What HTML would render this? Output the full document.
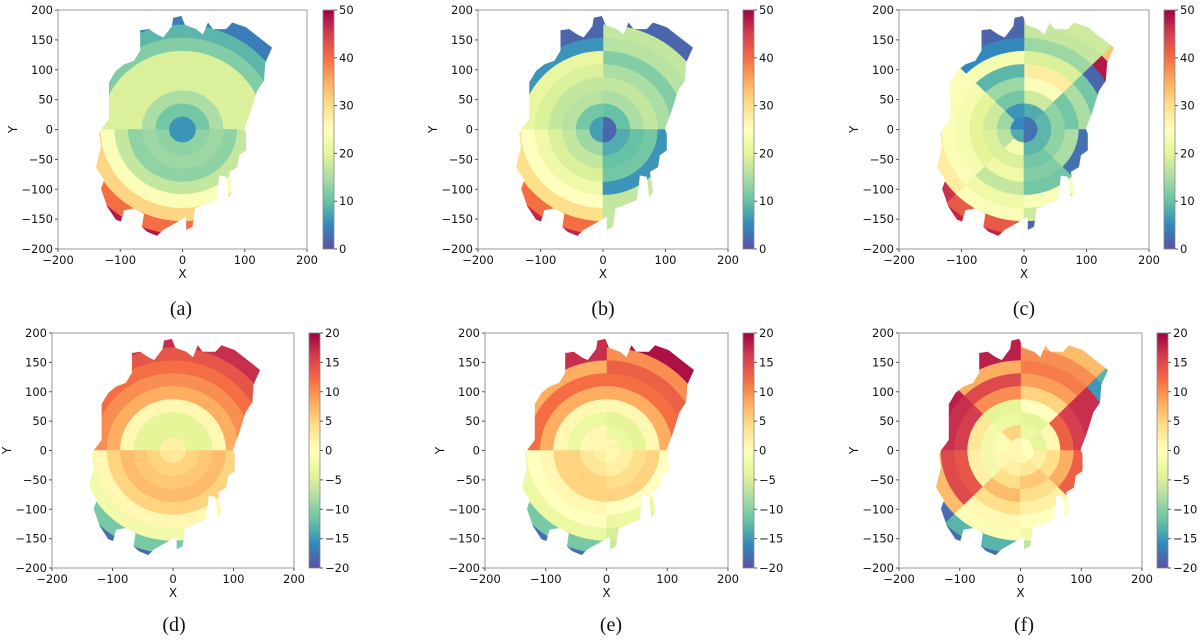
<!DOCTYPE html>
<html><head><meta charset="utf-8"><style>
body{margin:0;background:#fff;}
svg{display:block;font-family:"DejaVu Sans","Liberation Sans",sans-serif;}
</style></head><body>
<svg id="fig" width="1200" height="642" viewBox="0 0 1200 642" xmlns="http://www.w3.org/2000/svg">
<defs>
<linearGradient id="spec" x1="0" y1="1" x2="0" y2="0">
<stop offset="0" stop-color="#5e4fa2"/><stop offset="0.1" stop-color="#3288bd"/><stop offset="0.2" stop-color="#66c2a5"/><stop offset="0.3" stop-color="#abdda4"/><stop offset="0.4" stop-color="#e6f598"/><stop offset="0.5" stop-color="#ffffbf"/><stop offset="0.6" stop-color="#fee08b"/><stop offset="0.7" stop-color="#fdae61"/><stop offset="0.8" stop-color="#f46d43"/><stop offset="0.9" stop-color="#d53e4f"/><stop offset="1" stop-color="#9e0142"/>
</linearGradient>
</defs>
</svg>
<script>
// ring boundaries (data units)
const ringEdges = [0,22,44,66,88,110,132,154,176,215];
// footprint outline (data coords)
const outlineX = [-131,-118,-118,-107,-94,-78,-68,-68,-54,-41,-31,-17,-15,-2,4,22,33,41,49,70,80,102,123,144,133,131,120,110,99,102,102,91,88,75,80,74,70,59,57,54,28,20,16,6,6,-12,-31,-41,-57,-65,-62,-78,-94,-99,-107,-121,-131,-126,-139,-136,-131,-134];
const outlineY = [0,18,79,98,109,115,132,166,168,159,154,173,187,190,175,168,159,179,168,168,179,171,154,137,112,82,65,32,1,-7,-35,-43,-63,-71,-104,-114,-79,-77,-96,-118,-129,-132,-163,-168,-146,-157,-168,-178,-171,-163,-141,-132,-135,-154,-151,-129,-99,-85,-63,-49,-29,-7];
// panel a (2 sectors: upper, lower), values per ring
const aUpper = [6,11,15,19,19,19,12,9,4];
const aLower = [6,13,14,13,17,24,31,40,48];
// panel b (quadrants Q1..Q4)
const bQ1 = [2,10,15,17,15,12,16,17,2];
const bQ2 = [7,11,16,17,19,21,6,2,2];
const bQ3 = [7,14,17,19,22,25,30,40,47];
const bQ4 = [2,8,10,11,6,17,17,17,2];
// panel c (octants)
const cS0 = [3,9,13,11,15,11,2,48,33];
const cS1 = [3,8,18,24,28,19,14,17,18];
const cS2 = [5,6,11,14,9,23,5,2,2];
const cS3 = [5,14,18,20,23,24,24,25,25];
const cS4 = [8,16,19,20,23,24,28,46,47];
const cS5 = [8,23,19,22,17,22,24,42,47];
const cS6 = [3,9,11,12,11,24,18,2,2];
const cS7 = [3,9,13,15,3,12,2,2,2];
// panel d
const dUpper = [2,-4,-4,1,8,10,12,14,17];
const dLower = [3,5,6,7,5,1,-2,-11,-18];
// panel e
const eQ1 = [1,-3,-4,1,8,12,13,10,19];
const eQ2 = [1,1,-3,1,8,12,8,17,17];
const eQ3 = [2,3,5,5,1,0,-3,-11,-18];
const eQ4 = [1,2,4,5,0,-3,-5,-6,-8];
// panel f
const fS0 = [0,-4,1,13,16,17,17,-15,-13];
const fS1 = [0,-3,-4,0,5,9,11,10,7];
const fS2 = [1,5,-3,-4,10,15,8,18,18];
const fS3 = [1,-1,-2,3,16,17,18,18,18];
const fS4 = [1,1,-2,2,14,15,7,-18,-18];
const fS5 = [1,2,4,7,4,1,-1,-13,-18];
const fS6 = [1,3,6,4,2,0,-2,-7,-7];
const fS7 = [0,2,4,8,13,-6,-8,-17,-17];
const ticksTop = [0,10,20,30,40,50];
const ticksBot = [-20,-15,-10,-5,0,5,10,15,20];
const xTicks = [-200,-100,0,100,200];
const yTicks = [200,150,100,50,0,-50,-100,-150,-200];

const panels = [
 {id:'a',x0:58,x1:307,y0:10,y1:249,cb:323,sec:[aUpper,aLower],vmin:0,vmax:50,ct:ticksTop,cap:181,capY:315},
 {id:'b',x0:478,x1:728,y0:10,y1:249,cb:743,sec:[bQ1,bQ2,bQ3,bQ4],vmin:0,vmax:50,ct:ticksTop,cap:603,capY:315},
 {id:'c',x0:899,x1:1149,y0:10,y1:249,cb:1164,sec:[cS0,cS1,cS2,cS3,cS4,cS5,cS6,cS7],vmin:0,vmax:50,ct:ticksTop,cap:1024,capY:315},
 {id:'d',x0:52,x1:294,y0:333,y1:568,cb:309,sec:[dUpper,dLower],vmin:-20,vmax:20,ct:ticksBot,cap:174,capY:631},
 {id:'e',x0:485,x1:728,y0:333,y1:568,cb:743,sec:[eQ1,eQ2,eQ3,eQ4],vmin:-20,vmax:20,ct:ticksBot,cap:611,capY:631},
 {id:'f',x0:899,x1:1142,y0:333,y1:568,cb:1157,sec:[fS0,fS1,fS2,fS3,fS4,fS5,fS6,fS7],vmin:-20,vmax:20,ct:ticksBot,cap:1024,capY:631}
];
const stops=[[94,79,162],[50,136,189],[102,194,165],[171,221,164],[230,245,152],[255,255,191],[254,224,139],[253,174,97],[244,109,67],[213,62,79],[158,1,66]];
function cmap(t){t=Math.max(0,Math.min(1,t));const f=t*10;const i=Math.min(9,Math.floor(f));const u=f-i;
 const a=stops[i],b=stops[i+1];return 'rgb('+a.map((v,k)=>Math.round(v+(b[k]-v)*u)).join(',')+')';}
const NS='http://www.w3.org/2000/svg';
const svg=document.getElementById('fig');
function mk(tag,attrs,parent){const e=document.createElementNS(NS,tag);for(const k in attrs)e.setAttribute(k,attrs[k]);(parent||svg).appendChild(e);return e;}

panels.forEach(p=>{
 const w=p.x1-p.x0,h=p.y1-p.y0;
 const sx=x=>p.x0+(x+200)/400*w;
 const sy=y=>p.y0+(200-y)/400*h;
 const g=mk('g',{});
 
 
 const cp=mk('clipPath',{id:'clip-'+p.id},g);
 mk('polygon',{points:outlineX.map((x,i)=>sx(x).toFixed(1)+','+sy(outlineY[i]).toFixed(1)).join(' ')},cp);
 const mapG=mk('g',{'clip-path':'url(#clip-'+p.id+')'},g);
 
 
 const n=p.sec.length,step=2*Math.PI/n;
 p.sec.forEach((vals,s)=>{
  const a0=s*step,a1=(s+1)*step;
  vals.forEach((v,r)=>{
   const r0=ringEdges[r],r1=ringEdges[r+1];
   const P=(rr,a)=>sx(rr*Math.cos(a)).toFixed(2)+' '+sy(rr*Math.sin(a)).toFixed(2);
   const rx1=r1/400*w,ry1=r1/400*h,rx0=r0/400*w,ry0=r0/400*h;
   const large=(a1-a0)>Math.PI?1:0;
   let d='M'+P(r1,a0)+' A'+rx1+' '+ry1+' 0 '+large+' 0 '+P(r1,a1);
   if(r0>0) d+=' L'+P(r0,a1)+' A'+rx0+' '+ry0+' 0 '+large+' 1 '+P(r0,a0)+' Z';
   else d+=' L'+sx(0)+' '+sy(0)+' Z';
   const c=cmap((v-p.vmin)/(p.vmax-p.vmin));
   const el=mk('path',{d:d,fill:c,stroke:c,'stroke-width':0.6},mapG);
   
   
  });
 });
 const frame=mk('rect',{x:p.x0,y:p.y0,width:w,height:h,fill:'none',stroke:'#aaaaaa','stroke-width':1.2},g);
 
 
 xTicks.forEach(t=>{
  mk('line',{x1:sx(t),x2:sx(t),y1:p.y1,y2:p.y1+3,stroke:'#555'},g);
  const tx=mk('text',{x:sx(t),y:p.y1+15,'font-size':11.5,'text-anchor':'middle',fill:'#111'},g);
  tx.textContent=(t<0?'\u2212'+(-t):t);
  
  
 });
 yTicks.forEach(t=>{
  mk('line',{x1:p.x0-3,x2:p.x0,y1:sy(t),y2:sy(t),stroke:'#555'},g);
  const tx=mk('text',{x:p.x0-5,y:sy(t)+4,'font-size':11.5,'text-anchor':'end',fill:'#111'},g);
  tx.textContent=(t<0?'\u2212'+(-t):t);
  
  
 });
 const xl=mk('text',{x:(p.x0+p.x1)/2,y:p.y1+29,'font-size':12,'text-anchor':'middle',fill:'#111'},g);
 xl.textContent='X';
 
 
 const yl=mk('text',{x:0,y:0,'font-size':12,'text-anchor':'middle',fill:'#111',transform:'translate('+(p.x0-41)+','+((p.y0+p.y1)/2)+') rotate(-90)'},g);
 yl.textContent='Y';
 
 
 const cb=mk('rect',{x:p.cb,y:p.y0,width:11,height:h,fill:'url(#spec)',stroke:'#888','stroke-width':0.8},g);
 
 
 const cy=v=>p.y1-(v-p.vmin)/(p.vmax-p.vmin)*h;
 p.ct.forEach(t=>{
  mk('line',{x1:p.cb+11,x2:p.cb+14,y1:cy(t),y2:cy(t),stroke:'#555'},g);
  const tx=mk('text',{x:p.cb+16,y:cy(t)+4,'font-size':11.5,fill:'#111'},g);
  tx.textContent=(t<0?'\u2212'+(-t):t);
  
  
 });
 const cap=mk('text',{x:p.cap,y:p.capY,'font-size':20,'text-anchor':'middle',fill:'#111','font-family':'"Liberation Serif",serif'},g);
 cap.textContent='('+p.id+')';
 
 
});
</script>
</body></html>
